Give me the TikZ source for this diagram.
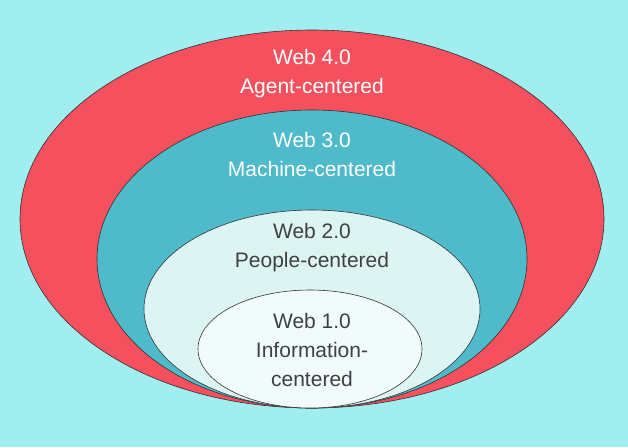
\documentclass[tikz,border=0pt]{standalone}
\usepackage{fontspec}
\setmainfont{Liberation Sans}
\begin{document}
\begin{tikzpicture}[x=1pt,y=-1pt,
  ring/.style={draw=black!80,line width=0.6pt},
  lbl/.style={font=\fontsize{21}{29}\selectfont,align=center,inner sep=0pt}]
\fill[fill={rgb,255:red,160;green,238;blue,240}] (0,0) rectangle (628,447);
\useasboundingbox (0,0) rectangle (628,447);
\draw[ring,fill={rgb,255:red,244;green,80;blue,94}] (312,219) ellipse [x radius=292,y radius=189];
\draw[ring,fill={rgb,255:red,78;green,186;blue,202}] (312,259) ellipse [x radius=215,y radius=149];
\draw[ring,fill={rgb,255:red,220;green,245;blue,242}] (312,309) ellipse [x radius=168,y radius=99];
\draw[ring,fill={rgb,255:red,242;green,251;blue,251}] (310,349) ellipse [x radius=112,y radius=59];
\node[lbl,text=white] (w4) at (312,74) {Web 4.0\\Agent-centered};
\node[lbl,text=white] (w3) at (312,154) {Web 3.0\\Machine-centered};
\node[lbl,text=black!75] (w2) at (312,248) {Web 2.0\\People-centered};
\node[lbl,text=black!75] (w1) at (312,350) {Web 1.0\\Information-\\centered};
\end{tikzpicture}
\end{document}
